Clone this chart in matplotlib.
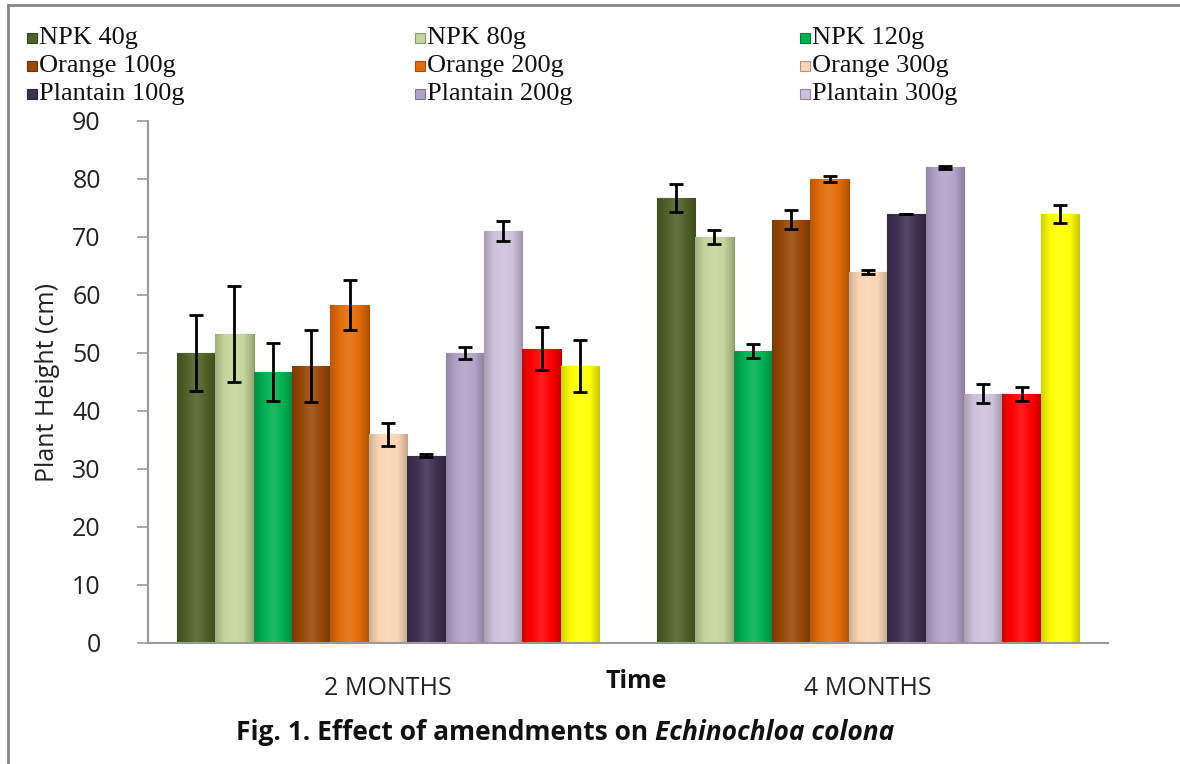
import matplotlib
matplotlib.use("Agg")
import matplotlib.pyplot as plt
import numpy as np
from matplotlib.lines import Line2D
from matplotlib.patches import Rectangle
import matplotlib.colors as mcolors

# ---- data ----
groups = ["2 MONTHS", "4 MONTHS"]
treatments = ["NPK 40g", "NPK 80g", "NPK 120g", "Orange 100g", "Orange 200g",
              "Orange 300g", "Plantain 100g", "Plantain 200g", "Plantain 300g",
              "Treatment 10", "Treatment 11"]
values_2m = [50.0, 53.3, 46.7, 47.7, 58.3, 36.0, 32.3, 50.0, 71.0, 50.7, 47.7]
errors_2m = [6.5, 8.3, 5.0, 6.2, 4.3, 2.0, 0.3, 1.0, 1.7, 3.7, 4.5]
values_4m = [76.7, 70.0, 50.4, 73.0, 80.0, 64.0, 74.0, 82.0, 43.0, 43.0, 74.0]
errors_4m = [2.4, 1.2, 1.2, 1.6, 0.5, 0.3, 0.0, 0.2, 1.7, 1.2, 1.5]
colors = ["#4F6228", "#C3D69B", "#00B050", "#984807", "#E36C09",
          "#FBD5B5", "#3F3151", "#B3A2C7", "#CCC1DA", "#FF0000", "#FFFF00"]
legend_count = 9
yticks = [0, 10, 20, 30, 40, 50, 60, 70, 80, 90]

W, H = 1180, 764
fig = plt.figure(figsize=(W / 100, H / 100), dpi=100)
ax = fig.add_axes([148 / W, 1 - 643 / H, (1108 - 148) / W, (643 - 121) / H])

x = np.arange(len(groups))
n = len(treatments)
w = 0.08
data = np.array([values_2m, values_4m])
errs = np.array([errors_2m, errors_4m])


def shade(c, f):
    c = np.array(mcolors.to_rgb(c))
    if f < 1:
        return tuple(c * f)
    return tuple(np.clip(c + (1 - c) * (f - 1), 0, 1))


for i in range(n):
    pos = x + (i - (n - 1) / 2) * w
    cmap = mcolors.LinearSegmentedColormap.from_list(
        "g%d" % i,
        [shade(colors[i], 0.82), shade(colors[i], 1.0), shade(colors[i], 1.12),
         shade(colors[i], 1.0), shade(colors[i], 0.78)])
    bars = ax.bar(pos, data[:, i], width=w, color=colors[i],
                  edgecolor=shade(colors[i], 0.7), linewidth=0.8, zorder=2)
    grad = np.linspace(0, 1, 64).reshape(1, -1)
    for b in bars:
        bx, by = b.get_x(), b.get_y()
        bw, bh = b.get_width(), b.get_height()
        im = ax.imshow(grad, cmap=cmap, aspect="auto",
                       extent=[bx, bx + bw, by, by + bh], zorder=2.05,
                       interpolation="bicubic")
        im.set_clip_path(b)
    ax.errorbar(pos, data[:, i], yerr=errs[:, i], fmt="none", ecolor="black",
                elinewidth=2.0, capsize=5, capthick=2.0, zorder=3)

ax.set_xlim(-0.5, 1.5)
ax.set_ylim(0, 90)
ax.set_yticks(yticks)
ax.set_yticklabels([str(v) for v in yticks], fontsize=18, family="Open Sans",
                   color="#222222")
ax.set_xticks(x)
ax.set_xticklabels(groups, fontsize=18, family="Open Sans", color="#222222")
ax.tick_params(axis="x", length=0, pad=24)
ax.tick_params(axis="y", length=8, color="#999999", width=1.2, pad=26)
for s in ["top", "right"]:
    ax.spines[s].set_visible(False)
for s in ["left", "bottom"]:
    ax.spines[s].set_color("#999999")
    ax.spines[s].set_linewidth(1.5)
ax.set_ylabel("Plant Height (cm)", fontsize=18, family="Open Sans",
              color="#222222", labelpad=9)

fig.text(636 / W, 1 - 681 / H, "Time", fontsize=18, fontweight="bold",
         family="Open Sans", ha="center", va="center", color="#111111")

# caption: bold upright part + bold italic part
cap1 = fig.text(0, 1 - 733 / H, "Fig. 1. Effect of amendments on ", fontsize=19,
                fontweight="bold", family="Open Sans", ha="left", va="center",
                color="#111111")
cap2 = fig.text(0, 1 - 733 / H, "Echinochloa colona", fontsize=19,
                fontweight="bold", style="italic", family="Open Sans",
                ha="left", va="center", color="#111111")
fig.canvas.draw()
r = fig.canvas.get_renderer()
w1 = cap1.get_window_extent(r).width
w2 = cap2.get_window_extent(r).width
start = 565 - (w1 + w2) / 2
cap1.set_x(start / W)
cap2.set_x((start + w1) / W)

# legend (first nine treatments), row-major, 3 columns
col_x = [27, 415, 800]
row_y = [38, 66, 94]
for k in range(legend_count):
    rr, cc = divmod(k, 3)
    mx, my = col_x[cc], row_y[rr]
    fig.add_artist(Rectangle((mx / W, 1 - (my + 5) / H), 10 / W, 10 / H,
                             transform=fig.transFigure, facecolor=colors[k],
                             edgecolor=shade(colors[k], 0.7), linewidth=0.8))
    fig.text((mx + 12) / W, 1 - my / H, treatments[k], fontsize=19,
             family="Liberation Serif", ha="left", va="center", color="#111111")

# outer frame
fig.add_artist(Line2D([8 / W, 8 / W], [0, 1 - 5 / H], transform=fig.transFigure,
                      color="#888888", linewidth=2))
fig.add_artist(Line2D([8 / W, 1], [1 - 5 / H, 1 - 5 / H], transform=fig.transFigure,
                      color="#888888", linewidth=2))

fig.savefig("out.png", dpi=100)
